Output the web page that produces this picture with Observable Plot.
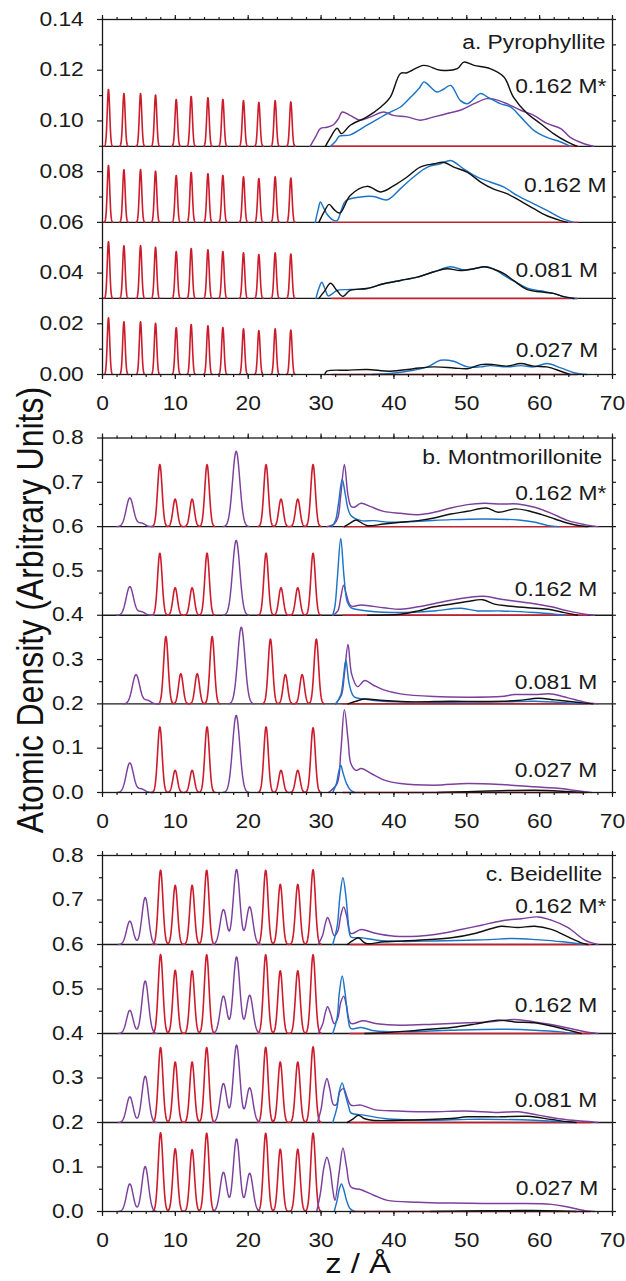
<!DOCTYPE html>
<html>
<head>
<meta charset="utf-8">
<script src="https://cdn.jsdelivr.net/npm/d3@7"></script>
<script src="https://cdn.jsdelivr.net/npm/@observablehq/plot@0.6"></script>
<style>
  body { margin: 0; background: #fff; }
  #fig { position: relative; width: 626px; height: 1281px; overflow: hidden;
         font-family: "Liberation Sans", Arial, sans-serif; color: #111; background: #fff; }
  .panel { position: absolute; left: 0; }
  #ylab { position: absolute; left: 30px; top: 610px; font-size: 32px; line-height: 1; white-space: nowrap;
          transform: translate(-50%, -50%) rotate(-90deg) scaleY(1.17); }
  #xlab { position: absolute; left: 358px; top: 1250px; font-size: 28px; line-height: 1; white-space: nowrap;
          transform: translateX(-50%) scaleX(1.17); }
</style>
</head>
<body>
<div id="fig">
  <div id="pa" class="panel" style="top:0px"></div>
  <div id="pb" class="panel" style="top:420px"></div>
  <div id="pc" class="panel" style="top:830px"></div>
  <div id="ylab">Atomic Density (Arbitrary Units)</div>
  <div id="xlab">z / Å</div>
</div>
<script>
// ---------------- DATA ----------------
const zMajor = [0, 10, 20, 30, 40, 50, 60, 70];
const zMinor = [0, 2, 4, 6, 8, 10, 12, 14, 16, 18, 20, 22, 24, 26, 28, 30, 32, 34, 36, 38, 40, 42, 44, 46, 48, 50, 52, 54, 56, 58, 60, 62, 64, 66, 68, 70];
const yMajorA = [0, 0.02, 0.04, 0.06, 0.08, 0.10, 0.12, 0.14];
const yMinorA = [0.01, 0.03, 0.05, 0.07, 0.09, 0.11, 0.13];
const yMajorBC = [0, 0.1, 0.2, 0.3, 0.4, 0.5, 0.6, 0.7, 0.8];
const yMinorBC = [0.05, 0.15, 0.25, 0.35, 0.45, 0.55, 0.65, 0.75];

const panelTitles = ["a. Pyrophyllite", "b. Montmorillonite", "c. Beidellite"];
const concLabels = ["0.162 M*", "0.162 M", "0.081 M", "0.027 M"];
const offsetsA = [0.09, 0.06, 0.03, 0];
const offsetsBC = [0.6, 0.4, 0.2, 0];

// clay-sheet peaks (centre z, height)
const redA_z = [0.82, 2.94, 5.22, 7.28, 10.12, 12.17, 14.47, 16.52, 19.35, 21.46, 23.70, 25.85];
const redA_h = [0.0224, 0.0208, 0.0208, 0.0202, 0.0185, 0.0197, 0.0192, 0.0185, 0.0180, 0.0173, 0.0180, 0.0175];

const redB_z  = [7.87, 9.97, 12.30, 14.35, 22.45, 24.50, 26.80, 28.90];
const redB3_z = [8.70, 10.75, 13.00, 15.05, 23.05, 25.10, 27.40, 29.35];
const redB1_h = [0.140, 0.062, 0.062, 0.140, 0.140, 0.062, 0.062, 0.140];
const redB2_h = [0.140, 0.062, 0.062, 0.140, 0.140, 0.062, 0.062, 0.140];
const redB3_h = [0.152, 0.068, 0.068, 0.152, 0.146, 0.066, 0.066, 0.146];
const redB4_h = [0.148, 0.050, 0.050, 0.148, 0.148, 0.050, 0.050, 0.146];
const purpB_z  = [3.75, 5.30, 18.35];
const purpB3_z = [4.60, 6.10, 19.05];
const purpB1_h = [0.0646, 0.008, 0.170];
const purpB2_h = [0.0646, 0.008, 0.169];
const purpB3_h = [0.066, 0.008, 0.173];
const purpB4_h = [0.0668, 0.008, 0.174];

const redC_z  = [7.97, 9.98, 12.30, 14.30, 22.40, 24.40, 26.80, 28.90];
const redC1_h = [0.167, 0.133, 0.133, 0.167, 0.167, 0.135, 0.135, 0.168];
const redC2_h = [0.1775, 0.142, 0.141, 0.177, 0.177, 0.141, 0.141, 0.177];
const redC3_h = [0.1685, 0.136, 0.136, 0.1685, 0.169, 0.136, 0.136, 0.170];
const redC4_h = [0.177, 0.141, 0.139, 0.176, 0.176, 0.140, 0.140, 0.176];
const purpC_z  = [3.75, 5.86, 16.60, 18.40, 20.20];
const purpC1_h = [0.0524, 0.1056, 0.0786, 0.1685, 0.0846];
const purpC2_h = [0.052, 0.118, 0.084, 0.172, 0.086];
const purpC3_h = [0.0577, 0.104, 0.0876, 0.174, 0.078];
const purpC4_h = [0.062, 0.101, 0.088, 0.163, 0.086];

// interlayer / solution profiles [z, density above sub-panel baseline]
const A1_purple = [[28.5,0],[29.3,0.004],[29.9,0.007],[30.8,0.0075],[31.7,0.0085],[32.4,0.011],[32.9,0.0135],[34.0,0.0122],[35.4,0.0103],[36.7,0.0115],[38.6,0.0135],[39.9,0.0122],[41.8,0.0116],[43.6,0.0103],[45.5,0.0116],[47.3,0.0129],[49.1,0.0142],[51.0,0.0168],[52.8,0.0188],[54.1,0.0183],[55.5,0.0168],[57.4,0.0142],[59.2,0.0122],[61.0,0.009],[62.9,0.007],[64.2,0.0035],[66.1,0.001],[67.4,0]];
const A1_blue = [[31.3,0],[32.0,0.002],[32.5,0.004],[34.0,0.0045],[36.3,0.0083],[39.1,0.0129],[40.9,0.0155],[42.3,0.0194],[43.5,0.023],[44.1,0.0254],[44.6,0.0245],[45.9,0.0214],[46.8,0.0225],[47.8,0.024],[49.1,0.0181],[50.1,0.0168],[51.9,0.0208],[52.8,0.0195],[54.6,0.0168],[56.0,0.0155],[57.4,0.0116],[59.2,0.0063],[61.0,0.0035],[62.9,0.0017],[64.2,0]];
const A1_black = [[30.6,0],[31.2,0.003],[32.2,0.0071],[32.8,0.005],[34.0,0.0083],[36.3,0.0116],[38.2,0.0155],[39.5,0.0194],[40.9,0.0287],[41.8,0.029],[44.1,0.0319],[46.4,0.030],[48.7,0.0306],[49.6,0.0332],[51.0,0.0319],[53.2,0.0306],[55.1,0.0273],[56.4,0.0194],[58.3,0.0129],[60.1,0.009],[61.9,0.005],[63.8,0.0017],[65.1,0]];
const A2_blue = [[29.2,0],[29.6,0.005],[29.9,0.008],[30.3,0.006],[30.8,0.0033],[31.6,0.001],[32.2,0.0007],[32.8,0.005],[33.4,0.0085],[35.4,0.010],[37.2,0.0102],[39.1,0.0089],[40.9,0.0133],[42.7,0.0179],[44.6,0.0218],[46.4,0.0231],[47.8,0.0244],[49.6,0.021],[51.4,0.0179],[53.2,0.0159],[55.1,0.0139],[56.9,0.0106],[59.2,0.0073],[61.0,0.0047],[63.3,0.0013],[64.7,0]];
const A2_black = [[29.7,0],[30.4,0.004],[31.1,0.0071],[31.8,0.005],[32.6,0.0037],[34.0,0.0106],[36.3,0.0142],[38.2,0.012],[40.0,0.0145],[41.8,0.0179],[43.6,0.0218],[45.5,0.0231],[46.8,0.0237],[48.2,0.0218],[50.1,0.0197],[51.9,0.0159],[53.7,0.0131],[55.5,0.0113],[57.4,0.0084],[59.2,0.0054],[61.0,0.0026],[62.9,0.0007],[63.8,0]];
const A3_blue = [[29.3,0],[29.7,0.004],[30.1,0.0064],[30.5,0.004],[31.0,0.001],[31.6,0.002],[32.2,0.0032],[34.0,0.0035],[36.3,0.0039],[38.6,0.0058],[40.9,0.0071],[43.2,0.0084],[45.5,0.0105],[47.8,0.0125],[49.6,0.0112],[51.0,0.0117],[52.8,0.0125],[54.0,0.0112],[55.5,0.0084],[57.0,0.006],[58.3,0.004],[60.1,0.003],[61.9,0.002],[63.8,0.0003],[65.1,0]];
const A3_black = [[29.7,0],[30.5,0.003],[31.3,0.006],[32.2,0.003],[33.0,0.0008],[34.0,0.0032],[36.3,0.0039],[38.6,0.0058],[40.9,0.0071],[43.2,0.0084],[45.5,0.0105],[47.3,0.0117],[49.1,0.011],[51.0,0.0117],[52.4,0.0125],[53.7,0.0115],[55.1,0.0098],[56.4,0.0071],[58.3,0.0035],[60.1,0.0026],[61.9,0.002],[63.3,0.0007],[64.7,0]];
const A4_blue = [[37.0,0],[39.5,0.0004],[42.7,0.0017],[44.6,0.003],[46.4,0.0056],[48.2,0.0052],[50.1,0.003],[51.9,0.003],[53.2,0.0035],[55.5,0.003],[57.4,0.0035],[59.2,0.003],[61.0,0.0043],[62.9,0.0026],[64.7,0.0007],[66.5,0]];
const A4_black = [[30.5,0],[30.8,0.0013],[33.6,0.0017],[36.3,0.002],[39.5,0.0013],[42.7,0.0023],[45.5,0.003],[48.2,0.0026],[50.1,0.0023],[51.9,0.0039],[53.7,0.0039],[55.5,0.0033],[57.4,0.0043],[59.2,0.0033],[61.0,0.003],[62.9,0.0013],[64.2,0]];

const B1_purple = [[30.8,0],[31.8,0.006],[32.3,0.02],[32.7,0.07],[33.2,0.14],[33.7,0.07],[34.1,0.046],[34.5,0.0436],[35.5,0.0526],[36.8,0.045],[38.6,0.0345],[40.9,0.030],[43.3,0.027],[45.5,0.0323],[47.8,0.042],[50.1,0.0496],[52.4,0.0526],[54.7,0.051],[57.0,0.051],[59.3,0.0436],[61.6,0.030],[63.9,0.0135],[66.2,0.0045],[68.0,0]];
const B1_blue = [[31.5,0],[32.0,0.015],[32.4,0.053],[32.9,0.107],[33.3,0.075],[33.7,0.04],[34.1,0.025],[35.5,0.0135],[37.3,0.0135],[39.2,0.0098],[43.3,0.012],[47.9,0.0158],[52.5,0.0173],[57.1,0.015],[59.4,0.0098],[61.2,0.0023],[62.6,0]];
const B1_black = [[33.2,0],[34.0,0.008],[34.8,0.015],[35.6,0.008],[36.4,0.002],[38.6,0.006],[40.9,0.0098],[43.3,0.0135],[45.5,0.0195],[47.8,0.0285],[50.1,0.0345],[52.7,0.042],[54.3,0.0323],[56.6,0.040],[58.4,0.036],[60.3,0.027],[62.1,0.0173],[63.9,0.0075],[65.7,0.0015],[66.6,0]];
const B2_purple = [[31.6,0],[32.3,0.01],[32.7,0.04],[33.1,0.068],[33.5,0.045],[34.1,0.021],[35.5,0.023],[38.6,0.017],[40.9,0.0135],[43.3,0.019],[45.5,0.026],[47.8,0.0338],[50.1,0.040],[52.4,0.0428],[54.7,0.036],[57.0,0.031],[59.3,0.026],[61.6,0.019],[63.9,0.0098],[66.2,0.0023],[67.5,0]];
const B2_blue = [[31.6,0],[31.9,0.02],[32.25,0.087],[32.7,0.1735],[33.15,0.087],[33.6,0.03],[34.1,0.017],[36.4,0.0098],[40.9,0.006],[45.5,0.0098],[49.2,0.0158],[51.5,0.0098],[54.7,0.0098],[59.3,0.006],[62.1,0.0023],[63.5,0]];
const B2_black = [[36.4,0],[40.9,0.0023],[43.3,0.0098],[45.5,0.019],[47.8,0.025],[50.1,0.031],[52.2,0.035],[53.8,0.025],[55.6,0.021],[58.4,0.017],[61.1,0.0135],[63.4,0.006],[65.2,0]];
const B3_purple = [[32.0,0],[32.8,0.02],[33.2,0.067],[33.7,0.134],[34.2,0.067],[35.0,0.039],[36.0,0.0526],[37.2,0.042],[38.6,0.0315],[40.9,0.0225],[45.5,0.0165],[50.1,0.015],[54.7,0.0165],[56.6,0.021],[59.3,0.021],[61.6,0.0225],[63.9,0.0135],[66.2,0.004],[68.0,0]];
const B3_blue = [[32.0,0],[32.7,0.02],[33.0,0.05],[33.4,0.099],[33.8,0.05],[34.2,0.025],[34.6,0.015],[35.9,0.011],[38.6,0.006],[45.5,0.0038],[54.7,0.0045],[59.3,0.006],[63.9,0.0023],[66.0,0]];
const B3_black = [[33.7,0],[34.8,0.006],[35.9,0.011],[38.6,0.0075],[42.7,0.0045],[47.8,0.006],[52.4,0.0053],[57.0,0.0075],[59.8,0.0128],[62.1,0.009],[65.0,0.0038],[67.3,0]];
const B4_purple = [[31.0,0],[32.2,0.02],[32.7,0.09],[33.2,0.187],[33.7,0.12],[34.1,0.065],[34.8,0.050],[35.5,0.054],[37.3,0.039],[38.7,0.028],[40.9,0.0203],[45.5,0.0165],[50.1,0.0203],[54.7,0.018],[59.3,0.0128],[62.9,0.009],[65.2,0.0038],[67.1,0]];
const B4_blue = [[31.6,0],[32.1,0.02],[32.4,0.045],[32.7,0.0616],[33.0,0.045],[33.5,0.02],[34.0,0.006],[34.6,0]];
const B4_black = [[46.0,0],[50.0,0.002],[54.7,0.004],[59.3,0.005],[63.0,0.003],[66.0,0]];

const C1_purple = [[29.6,0],[30.2,0.02],[30.6,0.048],[30.9,0.0607],[31.3,0.045],[31.8,0.02],[32.3,0.03],[32.7,0.065],[33.1,0.0846],[33.5,0.065],[34.1,0.0247],[35.5,0.0337],[37.3,0.026],[40.1,0.0187],[43.3,0.0187],[46.5,0.0247],[49.2,0.0337],[52.0,0.0434],[54.7,0.053],[57.5,0.058],[59.8,0.062],[61.6,0.0547],[63.9,0.038],[66.2,0.0097],[68.0,0]];
const C1_blue = [[31.6,0],[32.2,0.04],[32.6,0.11],[33.0,0.150],[33.4,0.11],[33.8,0.04],[34.1,0.017],[35.5,0.015],[37.7,0.0097],[40.9,0.007],[45.5,0.008],[50.1,0.0097],[53.1,0.011],[56.3,0.0135],[59.5,0.011],[63.2,0.006],[65.9,0]];
const C1_black = [[33.6,0],[34.4,0.009],[35.1,0.015],[35.8,0.006],[36.3,0.002],[38.7,0.006],[43.3,0.0097],[47.9,0.015],[51.1,0.0247],[53.4,0.036],[54.7,0.041],[57.0,0.038],[59.3,0.041],[61.6,0.034],[63.9,0.017],[65.7,0.0037],[66.6,0]];
const C2_purple = [[29.6,0],[30.2,0.02],[30.6,0.048],[30.9,0.060],[31.3,0.045],[31.8,0.022],[32.3,0.035],[32.7,0.07],[33.1,0.084],[33.5,0.062],[34.1,0.0225],[35.7,0.0285],[37.7,0.022],[40.9,0.0187],[45.5,0.021],[50.1,0.024],[53.0,0.026],[56.6,0.0315],[59.3,0.026],[62.1,0.0187],[64.8,0.009],[67.1,0.0015],[68.0,0]];
const C2_blue = [[31.6,0],[32.2,0.035],[32.5,0.09],[32.9,0.129],[33.3,0.09],[33.7,0.035],[34.1,0.011],[35.5,0.0135],[37.3,0.006],[40.9,0.0037],[47.8,0.0075],[54.7,0.0097],[59.3,0.0075],[62.9,0.0037],[64.7,0]];
const C2_black = [[36.0,0],[38.7,0.0015],[43.3,0.0075],[47.9,0.0135],[51.1,0.021],[54.3,0.030],[56.6,0.026],[59.3,0.024],[62.1,0.015],[63.9,0.0075],[65.7,0]];
const C3_purple = [[29.5,0],[30.0,0.03],[30.4,0.075],[30.8,0.099],[31.2,0.075],[31.7,0.04],[32.1,0.04],[32.6,0.07],[33.1,0.076],[33.6,0.055],[34.1,0.039],[35.5,0.039],[37.3,0.029],[40.5,0.026],[45.1,0.024],[49.7,0.026],[54.3,0.0225],[57.1,0.024],[59.8,0.0165],[63.5,0.0067],[67.1,0.0015],[68.0,0]];
const C3_blue = [[31.6,0],[32.2,0.035],[32.5,0.07],[32.9,0.089],[33.3,0.065],[33.8,0.035],[34.1,0.0217],[35.9,0.0165],[38.7,0.009],[45.5,0.005],[50.1,0.007],[59.3,0.005],[62.9,0.0015],[64.5,0]];
const C3_black = [[33.6,0],[34.4,0.008],[35.1,0.0165],[35.9,0.009],[37.0,0.005],[40.9,0.005],[47.8,0.009],[50.1,0.0127],[54.7,0.0127],[58.4,0.014],[61.6,0.0067],[63.9,0.0015],[65.0,0]];
const C4_purple = [[29.4,0],[29.9,0.04],[30.4,0.1],[30.8,0.122],[31.2,0.1],[31.6,0.05],[31.9,0.025],[32.5,0.09],[33.0,0.143],[33.5,0.1],[34.1,0.055],[35.5,0.049],[37.3,0.036],[39.1,0.025],[43.3,0.021],[47.9,0.019],[52.4,0.018],[57.0,0.018],[61.6,0.016],[63.9,0.010],[66.2,0.002],[67.5,0]];
const C4_blue = [[31.8,0],[32.2,0.025],[32.5,0.05],[32.8,0.062],[33.1,0.05],[33.5,0.025],[34.0,0.006],[34.6,0]];
const C4_black = [[45.0,0],[50.0,0.001],[56.0,0.002],[61.0,0.002],[65.0,0]];

// ---------------- STYLE / LAYOUT ----------------
const INK = "#1a1a1a";
const COL = {red: "#cc1c2c", purple: "#7b3f9c", blue: "#1d74c6", black: "#111111"};
const FONT = "'Liberation Sans', Arial, Helvetica, sans-serif";
const STRETCH = 1.17;

function peakRows(zs, hs, sigma, base, key) {
  const iv = zs.map(c => [c - 3.5 * sigma, c + 3.5 * sigma]).sort((a, b) => a[0] - b[0]);
  const merged = [];
  for (const [a, b] of iv) {
    const last = merged[merged.length - 1];
    if (last && a <= last[1]) last[1] = Math.max(last[1], b);
    else merged.push([a, b]);
  }
  const rows = [];
  merged.forEach(([a, b], k) => {
    const n = Math.ceil((b - a) / (sigma / 8));
    for (let i = 0; i <= n; i++) {
      const z = a + (b - a) * i / n;
      let v = 0;
      zs.forEach((c, j) => { v += hs[j] * Math.exp(-((z - c) ** 2) / (2 * sigma * sigma)); });
      rows.push({z, y: base + v, key: key + "-" + k});
    }
  });
  return rows;
}
function profRows(pts, base, key) {
  return pts ? pts.map(([z, v]) => ({z, y: base + v, key})) : [];
}

function drawPanel(el, cfg) {
  const red = [], redFlat = [], purpPk = [], purp = [], blue = [], black = [];
  cfg.subs.forEach((s, i) => {
    const base = cfg.offsets[i];
    red.push(...peakRows(s.redZ, s.redH, cfg.redSigma, base, "r" + i));
    redFlat.push({z: cfg.redFlat[0], y: base, key: "f" + i}, {z: cfg.redFlat[1], y: base, key: "f" + i});
    if (s.purpZ) purpPk.push(...peakRows(s.purpZ, s.purpH, cfg.purpSigma, base, "pp" + i));
    purp.push(...profRows(s.purple, base, "p" + i));
    blue.push(...profRows(s.blue, base, "b" + i));
    black.push(...profRows(s.black, base, "k" + i));
  });
  const labels = cfg.labelText.map((t, i) => ({text: t, z: cfg.labelZ[i], v: cfg.labelV[i]}));
  const lw = 1.45;
  const plot = Plot.plot({
    width: 626, height: cfg.height,
    marginLeft: 102, marginRight: 14, marginTop: cfg.mt, marginBottom: cfg.mb,
    x: {domain: [0, 70]},
    y: {domain: [0, cfg.yMax]},
    style: {fontFamily: FONT, fontSize: "19.5px", color: INK, background: "transparent", overflow: "visible"},
    marks: [
      Plot.ruleY(cfg.offsets.filter(d => d > 0), {stroke: INK, strokeWidth: 1.3}),
      Plot.line(redFlat, {x: "z", y: "y", z: "key", stroke: COL.red, strokeWidth: lw}),
      Plot.line(red, {x: "z", y: "y", z: "key", stroke: COL.red, strokeWidth: 1.6}),
      Plot.line(purpPk, {x: "z", y: "y", z: "key", stroke: COL.purple, strokeWidth: lw}),
      Plot.line(purp, {x: "z", y: "y", z: "key", stroke: COL.purple, strokeWidth: lw, curve: "catmull-rom"}),
      Plot.line(blue, {x: "z", y: "y", z: "key", stroke: COL.blue, strokeWidth: lw, curve: "catmull-rom"}),
      Plot.line(black, {x: "z", y: "y", z: "key", stroke: COL.black, strokeWidth: lw, curve: "catmull-rom"}),
      Plot.axisY(cfg.yMajor, {anchor: "left", tickSize: 5, tickPadding: 13.7, tickFormat: d3.format(cfg.fmt), label: null, stroke: INK, strokeWidth: 1.2}),
      Plot.axisY(cfg.yMinor, {anchor: "left", tickSize: 3, tickFormat: () => "", label: null, stroke: INK, strokeWidth: 1.2}),
      Plot.axisY(cfg.yRight, {anchor: "right", tickSize: 3, tickFormat: () => "", label: null, stroke: INK, strokeWidth: 1.2}),
      Plot.axisX(zMajor, {anchor: "bottom", tickSize: 5, tickPadding: 17, tickFormat: d3.format("d"), label: null, stroke: INK, strokeWidth: 1.2}),
      Plot.axisX(zMinor, {anchor: "bottom", tickSize: 3, tickFormat: () => "", label: null, stroke: INK, strokeWidth: 1.2}),
      Plot.axisX(zMajor, {anchor: "top", tickSize: 5, tickFormat: () => "", label: null, stroke: INK, strokeWidth: 1.2}),
      Plot.axisX(zMinor, {anchor: "top", tickSize: 3, tickFormat: () => "", label: null, stroke: INK, strokeWidth: 1.2}),
      Plot.frame({stroke: INK, strokeWidth: 1.3}),
      Plot.text(labels, {x: "z", y: "v", text: "text", textAnchor: "end", fill: INK, fontSize: 19.5})
    ]
  });
  plot.querySelectorAll("text").forEach(t => {
    const T = t.getAttribute("transform") || "";
    const x = parseFloat(t.getAttribute("x")) || 0;
    t.setAttribute("transform", `${T} translate(${x},0) scale(${STRETCH},1) translate(${-x},0)`);
  });
  el.appendChild(plot);
}

drawPanel(document.getElementById("pa"), {
  height: 420, mt: 19, mb: 46, yMax: 0.14, fmt: ".2f",
  yMajor: yMajorA, yMinor: yMinorA, yRight: [...yMajorA, ...yMinorA],
  offsets: offsetsA, redSigma: 0.17, purpSigma: 0.5, redFlat: [31.5, 65.2],
  subs: [
    {redZ: redA_z, redH: redA_h, purple: A1_purple, blue: A1_blue, black: A1_black},
    {redZ: redA_z, redH: redA_h, blue: A2_blue, black: A2_black},
    {redZ: redA_z, redH: redA_h, blue: A3_blue, black: A3_black},
    {redZ: redA_z, redH: redA_h, blue: A4_blue, black: A4_black}
  ],
  labelText: [panelTitles[0], ...concLabels],
  labelZ: [69.04, 69.17, 69.17, 68.0, 68.05],
  labelV: [0.1309, 0.1136, 0.0745, 0.0408, 0.0093]
});

drawPanel(document.getElementById("pb"), {
  height: 410, mt: 17.5, mb: 38, yMax: 0.8, fmt: ".1f",
  yMajor: yMajorBC, yMinor: yMinorBC, yRight: [...yMajorBC, ...yMinorBC],
  offsets: offsetsBC, redSigma: 0.31, purpSigma: 0.5, redFlat: [33.0, 66.5],
  subs: [
    {redZ: redB_z, redH: redB1_h, purpZ: purpB_z, purpH: purpB1_h, purple: B1_purple, blue: B1_blue, black: B1_black},
    {redZ: redB_z, redH: redB2_h, purpZ: purpB_z, purpH: purpB2_h, purple: B2_purple, blue: B2_blue, black: B2_black},
    {redZ: redB3_z, redH: redB3_h, purpZ: purpB3_z, purpH: purpB3_h, purple: B3_purple, blue: B3_blue, black: B3_black},
    {redZ: redB_z, redH: redB4_h, purpZ: purpB_z, purpH: purpB4_h, purple: B4_purple, blue: B4_blue, black: B4_black}
  ],
  labelText: [panelTitles[1], ...concLabels],
  labelZ: [68.6, 69.17, 67.9, 67.9, 67.9],
  labelV: [0.755, 0.675, 0.458, 0.247, 0.0485]
});

drawPanel(document.getElementById("pc"), {
  height: 451, mt: 25, mb: 70, yMax: 0.8, fmt: ".1f",
  yMajor: yMajorBC, yMinor: yMinorBC, yRight: [...yMajorBC, ...yMinorBC],
  offsets: offsetsBC, redSigma: 0.32, purpSigma: 0.45, redFlat: [34.0, 67.0],
  subs: [
    {redZ: redC_z, redH: redC1_h, purpZ: purpC_z, purpH: purpC1_h, purple: C1_purple, blue: C1_blue, black: C1_black},
    {redZ: redC_z, redH: redC2_h, purpZ: purpC_z, purpH: purpC2_h, purple: C2_purple, blue: C2_blue, black: C2_black},
    {redZ: redC_z, redH: redC3_h, purpZ: purpC_z, purpH: purpC3_h, purple: C3_purple, blue: C3_blue, black: C3_black},
    {redZ: redC_z, redH: redC4_h, purpZ: purpC_z, purpH: purpC4_h, purple: C4_purple, blue: C4_blue, black: C4_black}
  ],
  labelText: [panelTitles[2], ...concLabels],
  labelZ: [68.6, 69.17, 67.9, 67.9, 68.05],
  labelV: [0.7557, 0.6854, 0.463, 0.2494, 0.0517]
});
</script>
</body>
</html>
